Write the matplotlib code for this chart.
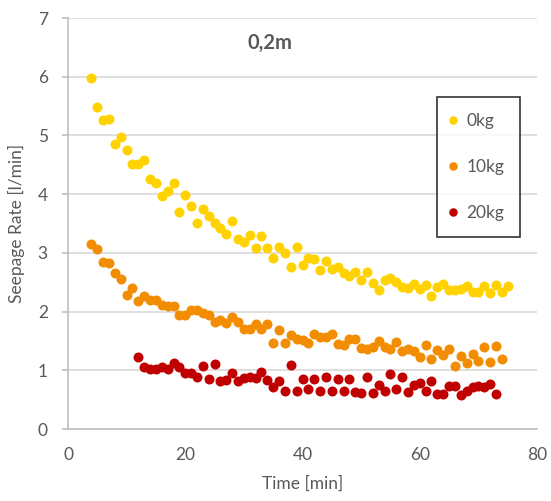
import matplotlib
matplotlib.use("Agg")
import matplotlib.pyplot as plt

# Seepage rate vs time, three loads
t_0kg = list(range(4, 76))
q_0kg = [5.97, 5.48, 5.27, 5.28, 4.86, 4.98, 4.76, 4.52, 4.51, 4.58,
         4.25, 4.19, 3.97, 4.06, 4.19, 3.69, 3.98, 3.79, 3.51, 3.75,
         3.62, 3.51, 3.43, 3.32, 3.55, 3.23, 3.19, 3.31, 3.09, 3.29,
         3.09, 2.91, 3.10, 3.00, 2.76, 3.10, 2.79, 2.92, 2.90, 2.70,
         2.86, 2.72, 2.76, 2.66, 2.60, 2.67, 2.54, 2.67, 2.49, 2.37,
         2.53, 2.58, 2.50, 2.42, 2.40, 2.47, 2.39, 2.45, 2.26, 2.42,
         2.47, 2.36, 2.37, 2.38, 2.43, 2.33, 2.34, 2.43, 2.32, 2.46,
         2.33, 2.43]

t_10kg = list(range(4, 75))
q_10kg = [3.15, 3.06, 2.84, 2.82, 2.65, 2.55, 2.29, 2.40, 2.18, 2.26,
          2.20, 2.19, 2.12, 2.10, 2.09, 1.94, 1.94, 2.03, 2.03, 1.98,
          1.94, 1.83, 1.86, 1.81, 1.90, 1.82, 1.71, 1.71, 1.79, 1.71,
          1.78, 1.46, 1.68, 1.47, 1.60, 1.54, 1.51, 1.47, 1.61, 1.56,
          1.56, 1.61, 1.45, 1.43, 1.53, 1.53, 1.38, 1.36, 1.40, 1.50,
          1.40, 1.36, 1.48, 1.32, 1.37, 1.32, 1.23, 1.43, 1.19, 1.34,
          1.26, 1.37, 1.08, 1.25, 1.13, 1.28, 1.15, 1.39, 1.14, 1.41,
          1.19]

t_20kg = list(range(12, 74))
q_20kg = [1.23, 1.05, 1.03, 1.02, 1.05, 1.02, 1.12, 1.05, 0.96, 0.95,
          0.88, 1.08, 0.85, 1.10, 0.81, 0.84, 0.95, 0.82, 0.87, 0.88,
          0.87, 0.97, 0.84, 0.71, 0.82, 0.65, 1.09, 0.65, 0.85, 0.68,
          0.85, 0.65, 0.88, 0.64, 0.85, 0.64, 0.86, 0.63, 0.62, 0.88,
          0.61, 0.75, 0.65, 0.94, 0.68, 0.89, 0.63, 0.75, 0.78, 0.65,
          0.82, 0.59, 0.59, 0.74, 0.74, 0.58, 0.64, 0.72, 0.74, 0.72,
          0.76, 0.59]

series = [("0kg", t_0kg, q_0kg, "#FFD200"),
          ("10kg", t_10kg, q_10kg, "#F28C00"),
          ("20kg", t_20kg, q_20kg, "#C00000")]

GREY = "#595959"
plt.rcParams["font.family"] = ["Lato", "DejaVu Sans"]

fig = plt.figure(figsize=(5.51, 5.01), dpi=100)
ax = fig.add_axes([68 / 551, 72 / 501, 469 / 551, 411 / 501])

for lab, t, q, c in series:
    ax.plot(t, q, "o", ms=7.2, color=c, label=lab, markeredgewidth=0)

ax.set_xlim(0, 80)
ax.set_ylim(0, 7)
ax.set_xticks([0, 20, 40, 60, 80])
ax.set_yticks(range(8))
ax.grid(axis="y", color="#D9D9D9", lw=1.2)
ax.set_axisbelow(True)
for s in ("top", "right"):
    ax.spines[s].set_visible(False)
for s in ("left", "bottom"):
    ax.spines[s].set_color("#BFBFBF")
    ax.spines[s].set_linewidth(1.2)
ax.tick_params(colors="#BFBFBF", labelcolor=GREY, labelsize=12.5, width=1.2)
ax.tick_params(axis="y", length=4.5, pad=10)
ax.tick_params(axis="x", length=0, pad=13)
ax.set_xlabel("Time [min]", fontsize=12.5, color=GREY, labelpad=9)
ax.set_ylabel("Seepage Rate [l/min]", fontsize=12.5, color=GREY, labelpad=9)

fig.text(270 / 551, 1 - 43 / 501, "0,2m", fontsize=14.5, weight="bold", color=GREY,
         ha="center", va="center")

leg = ax.legend(loc="upper left", bbox_to_anchor=((437 - 68) / 469, (429 - 97) / 411),
                frameon=True, fancybox=False, fontsize=12.5, labelcolor=GREY,
                handletextpad=0.8, labelspacing=1.75, borderpad=0.9,
                handlelength=0, markerscale=0.85, borderaxespad=0)
leg.get_frame().set_edgecolor("black")
leg.get_frame().set_linewidth(1.2)

fig.savefig("out.png", dpi=100)
